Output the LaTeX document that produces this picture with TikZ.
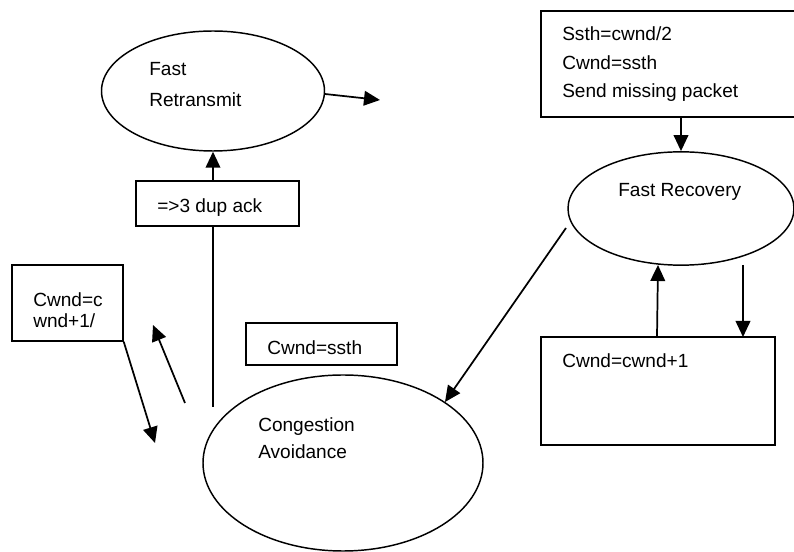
\documentclass[tikz,border=0pt]{standalone}
\usepackage{fontspec}
\setmainfont{Liberation Sans}
\usetikzlibrary{arrows.meta,shapes.geometric}

\tikzset{
  state/.style={ellipse, draw, line width=1.1pt, inner sep=0pt},
  box/.style={rectangle, draw, line width=1.1pt, inner sep=0pt},
  lbl/.style={anchor=base west, inner sep=0pt, font=\fontsize{14.3pt}{17pt}\selectfont},
  arr/.style={line width=1.3pt, -{Triangle[length=12pt,width=11pt]}},
  plain/.style={line width=1.3pt}
}

\begin{document}
\begin{tikzpicture}[x=0.75pt, y=-0.75pt]
  \clip (0,0) rectangle (794,552);
  \fill[white] (0,0) rectangle (794,552);

  % states
  \node[state, minimum width=167.25pt, minimum height=90pt] (fr) at (213,91) {};
  \node[state, minimum width=210pt, minimum height=132pt] (ca) at (343,463) {};
  \node[state, minimum width=169.5pt, minimum height=85pt] (frec) at (681,208.5) {};

  % boxes
  \node[box, minimum width=122.25pt, minimum height=33.75pt] (dup) at (217.5,203.5) {};
  \node[box, minimum width=83.25pt, minimum height=57pt] (cw) at (67.5,303) {};
  \node[box, minimum width=113.25pt, minimum height=31.5pt] (ss) at (321.5,344) {};
  \node[box, minimum width=194.25pt, minimum height=79.5pt] (top) at (670.5,64) {};
  \node[box, minimum width=175.5pt, minimum height=81pt] (inc) at (658,391) {};

  % labels
  \node[lbl] (frA) at (149,76) {Fast};
  \node[lbl] (frB) at (149,107) {Retransmit};
  \node[lbl] (dupt) at (157,213) {=>3 dup ack};
  \node[lbl] (cwA) at (33,307) {Cwnd=c};
  \node[lbl] (cwB) at (33,328) {wnd+1/};
  \node[lbl] (sst) at (267,355) {Cwnd=ssth};
  \node[lbl] (caA) at (258,432) {Congestion};
  \node[lbl] (caB) at (258,459) {Avoidance};
  \node[lbl] (tA) at (562,41) {Ssth=cwnd/2};
  \node[lbl] (tB) at (562,70) {Cwnd=ssth};
  \node[lbl] (tC) at (562,98) {Send missing packet};
  \node[lbl] (frecT) at (618,197) {Fast Recovery};
  \node[lbl] (inct) at (562,368) {Cwnd=cwnd+1};

  % connector end points
  \coordinate (frOut) at (325,94);
  \coordinate (frTip) at (380,100);
  \coordinate (caStem) at (213,407);
  \coordinate (cwTip) at (155,443);
  \coordinate (backFrom) at (185,403);
  \coordinate (backTip) at (153,325);
  \coordinate (recFrom) at (566,228);
  \coordinate (recTip) at (445,402);
  \coordinate (upFrom) at (657,337);
  \coordinate (upTip) at (658,265);
  \coordinate (downFrom) at (743,265);
  \coordinate (downTip) at (743,337);

  % connectors
  \draw[arr] (frOut) -- (frTip);
  \draw[arr] (fr.south |- dup.north) -- (fr.south);
  \draw[plain] (caStem) -- (caStem |- dup.south);
  \draw[arr] (cw.south east) -- (cwTip);
  \draw[arr] (backFrom) -- (backTip);
  \draw[arr] (frec.north |- top.south) -- (frec.north);
  \draw[arr] (recFrom) -- (recTip);
  \draw[arr] (upFrom) -- (upTip);
  \draw[arr] (downFrom) -- (downTip);
\end{tikzpicture}
\end{document}
